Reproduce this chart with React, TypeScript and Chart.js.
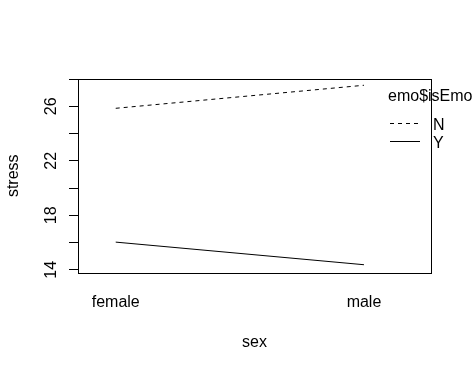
import React, { useEffect, useRef } from "react";
import { Chart, registerables } from "chart.js";

Chart.register(...registerables);

const categories = ["female", "male"];
const categoryPositions = [1, 2];
const seriesNames = ["N", "Y"];
const seriesN = [25.85, 27.54];
const seriesY = [16.03, 14.37];
const yTickValues = [14, 16, 18, 20, 22, 24, 26, 28];
const yTickLabels = ["14", "", "18", "", "22", "", "26", ""];
const legendTitle = "emo$isEmo";
const xTitle = "sex";
const yTitle = "stress";

const FONT = "'Liberation Sans', Arial, sans-serif";

const boxAndLabelsPlugin = {
  id: "boxAndLabels",
  afterDraw(chart: any) {
    const { ctx, chartArea } = chart;
    const ys = chart.scales.y;
    ctx.save();
    // box
    ctx.strokeStyle = "#000";
    ctx.lineWidth = 1;
    ctx.setLineDash([]);
    const l = Math.round(chartArea.left) + 0.5;
    const t = Math.round(chartArea.top) + 0.5;
    const r = Math.round(chartArea.right) + 0.5;
    const b = Math.round(chartArea.bottom) + 0.5;
    ctx.strokeRect(l, t, r - l, b - t);
    // rotated y tick labels
    ctx.fillStyle = "#000";
    ctx.font = `16px ${FONT}`;
    ctx.textAlign = "center";
    ctx.textBaseline = "alphabetic";
    yTickValues.forEach((v, i) => {
      const lab = yTickLabels[i];
      if (!lab) return;
      const py = ys.getPixelForValue(v);
      ctx.save();
      ctx.translate(chartArea.left - 22, py);
      ctx.rotate(-Math.PI / 2);
      ctx.fillText(lab, 0, 0);
      ctx.restore();
    });
    // legend
    const lx = chartArea.right - 43;
    ctx.textAlign = "left";
    ctx.fillText(legendTitle, lx, chartArea.top + 22);
    chart.data.datasets.forEach((ds: any, i: number) => {
      const ly = chartArea.top + 44 + i * 18;
      ctx.beginPath();
      ctx.setLineDash(ds.borderDash || []);
      ctx.lineWidth = 1;
      ctx.moveTo(lx + 2, ly + 0.5);
      ctx.lineTo(lx + 32, ly + 0.5);
      ctx.stroke();
      ctx.setLineDash([]);
      ctx.fillText(ds.label, lx + 45, ly + 6.5);
    });
    ctx.restore();
  },
};

export default function App() {
  const ref = useRef<HTMLCanvasElement | null>(null);
  useEffect(() => {
    if (!ref.current) return;
    const makeData = (vals: number[]) =>
      categoryPositions.map((x, i) => ({ x, y: vals[i] }));
    const chart = new Chart(ref.current, {
      type: "line",
      data: {
        datasets: [
          {
            label: seriesNames[0],
            data: makeData(seriesN),
            borderColor: "#000",
            borderWidth: 1,
            borderDash: [4, 4],
            pointRadius: 0,
            fill: false,
          },
          {
            label: seriesNames[1],
            data: makeData(seriesY),
            borderColor: "#000",
            borderWidth: 1,
            pointRadius: 0,
            fill: false,
          },
        ],
      },
      options: {
        animation: false,
        responsive: false,
        layout: { padding: { left: 0, top: 79, right: 41, bottom: 0 } },
        plugins: { legend: { display: false }, tooltip: { enabled: false } },
        scales: {
          x: {
            type: "linear",
            min: 0.848,
            max: 2.27,
            afterBuildTicks: (s: any) => {
              s.ticks = categoryPositions.map((v) => ({ value: v }));
            },
            afterFit: (s: any) => {
              s.height = 98.5;
            },
            ticks: {
              callback: (v: any) => {
                const i = categoryPositions.indexOf(Number(v));
                return i >= 0 ? categories[i] : "";
              },
              font: { family: FONT, size: 16 },
              color: "#000",
              padding: 12.5,
              autoSkip: false,
              maxRotation: 0,
              minRotation: 0,
            },
            grid: { display: false },
            border: { display: false },
            title: {
              display: true,
              text: xTitle,
              color: "#000",
              font: { family: FONT, size: 16 },
              padding: { top: 0, bottom: 18.5 },
            },
          },
          y: {
            type: "linear",
            min: 13.8,
            max: 28.0,
            afterBuildTicks: (s: any) => {
              s.ticks = yTickValues.map((v) => ({ value: v }));
            },
            afterFit: (s: any) => {
              s.width = 78;
            },
            ticks: { display: false },
            grid: {
              drawOnChartArea: false,
              drawTicks: true,
              tickLength: 9,
              color: "#000",
              lineWidth: 1,
            },
            border: { display: true, color: "#000" },
            title: {
              display: true,
              text: yTitle,
              color: "#000",
              font: { family: FONT, size: 16 },
              padding: { top: 4, bottom: 0 },
            },
          },
        },
      },
      plugins: [boxAndLabelsPlugin],
    } as any);
    return () => chart.destroy();
  }, []);
  return (
    <div style={{ position: "absolute", left: 0, top: 0, width: 472, height: 371, background: "#fff" }}>
      <canvas ref={ref} width={472} height={371} />
    </div>
  );
}
